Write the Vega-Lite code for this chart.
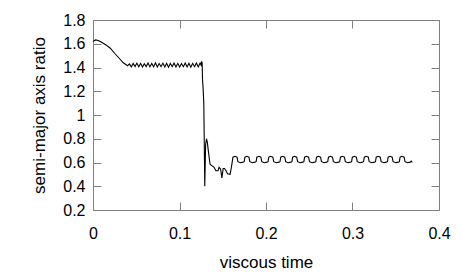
{
  "$schema": "https://vega.github.io/schema/vega-lite/v6.json",
  "width": 346,
  "height": 190,
  "autosize": {"type": "none"},
  "padding": {"left": 93, "top": 20, "right": 24, "bottom": 68},
  "background": "white",
  "config": {
    "view": {"stroke": "#808080", "strokeWidth": 1},
    "font": "Liberation Sans",
    "axis": {
      "domain": false,
      "grid": false,
      "tickColor": "#808080",
      "tickSize": -8,
      "labelColor": "#000000",
      "titleColor": "#000000",
      "labelFont": "Liberation Sans",
      "titleFont": "Liberation Sans",
      "labelFontSize": 16,
      "titleFontSize": 17,
      "titleFontWeight": "normal"
    }
  },
  "data": {
    "values": [
      {"t": 0.0000, "r": 1.620},
      {"t": 0.0030, "r": 1.632},
      {"t": 0.0060, "r": 1.628},
      {"t": 0.0100, "r": 1.612},
      {"t": 0.0150, "r": 1.590},
      {"t": 0.0200, "r": 1.562},
      {"t": 0.0250, "r": 1.520},
      {"t": 0.0300, "r": 1.480},
      {"t": 0.0350, "r": 1.440},
      {"t": 0.0400, "r": 1.415},
      {"t": 0.0421, "r": 1.430},
      {"t": 0.0443, "r": 1.405},
      {"t": 0.0464, "r": 1.434},
      {"t": 0.0486, "r": 1.408},
      {"t": 0.0507, "r": 1.437},
      {"t": 0.0529, "r": 1.406},
      {"t": 0.0550, "r": 1.435},
      {"t": 0.0572, "r": 1.404},
      {"t": 0.0593, "r": 1.432},
      {"t": 0.0615, "r": 1.408},
      {"t": 0.0636, "r": 1.438},
      {"t": 0.0658, "r": 1.405},
      {"t": 0.0679, "r": 1.434},
      {"t": 0.0701, "r": 1.406},
      {"t": 0.0722, "r": 1.439},
      {"t": 0.0744, "r": 1.404},
      {"t": 0.0765, "r": 1.433},
      {"t": 0.0787, "r": 1.407},
      {"t": 0.0808, "r": 1.437},
      {"t": 0.0830, "r": 1.405},
      {"t": 0.0851, "r": 1.436},
      {"t": 0.0873, "r": 1.403},
      {"t": 0.0894, "r": 1.434},
      {"t": 0.0916, "r": 1.407},
      {"t": 0.0937, "r": 1.438},
      {"t": 0.0959, "r": 1.405},
      {"t": 0.0980, "r": 1.435},
      {"t": 0.1002, "r": 1.404},
      {"t": 0.1023, "r": 1.433},
      {"t": 0.1045, "r": 1.407},
      {"t": 0.1066, "r": 1.438},
      {"t": 0.1088, "r": 1.405},
      {"t": 0.1109, "r": 1.436},
      {"t": 0.1131, "r": 1.403},
      {"t": 0.1152, "r": 1.435},
      {"t": 0.1174, "r": 1.407},
      {"t": 0.1195, "r": 1.438},
      {"t": 0.1217, "r": 1.405},
      {"t": 0.1238, "r": 1.437},
      {"t": 0.1250, "r": 1.420},
      {"t": 0.1256, "r": 1.452},
      {"t": 0.1262, "r": 1.440},
      {"t": 0.1266, "r": 1.300},
      {"t": 0.1269, "r": 1.270},
      {"t": 0.1273, "r": 1.220},
      {"t": 0.1277, "r": 1.160},
      {"t": 0.1281, "r": 1.100},
      {"t": 0.1292, "r": 0.400},
      {"t": 0.1302, "r": 0.750},
      {"t": 0.1312, "r": 0.800},
      {"t": 0.1322, "r": 0.770},
      {"t": 0.1333, "r": 0.700},
      {"t": 0.1353, "r": 0.585},
      {"t": 0.1380, "r": 0.570},
      {"t": 0.1400, "r": 0.560},
      {"t": 0.1420, "r": 0.530},
      {"t": 0.1445, "r": 0.530},
      {"t": 0.1457, "r": 0.560},
      {"t": 0.1475, "r": 0.545},
      {"t": 0.1490, "r": 0.470},
      {"t": 0.1505, "r": 0.550},
      {"t": 0.1520, "r": 0.550},
      {"t": 0.1538, "r": 0.530},
      {"t": 0.1555, "r": 0.505},
      {"t": 0.1585, "r": 0.500},
      {"t": 0.1600, "r": 0.560},
      {"t": 0.1610, "r": 0.607},
      {"t": 0.1618, "r": 0.645},
      {"t": 0.1640, "r": 0.652},
      {"t": 0.1665, "r": 0.645},
      {"t": 0.1675, "r": 0.607},
      {"t": 0.1705, "r": 0.598},
      {"t": 0.1735, "r": 0.603},
      {"t": 0.1748, "r": 0.607},
      {"t": 0.1756, "r": 0.645},
      {"t": 0.1778, "r": 0.652},
      {"t": 0.1803, "r": 0.645},
      {"t": 0.1813, "r": 0.607},
      {"t": 0.1843, "r": 0.598},
      {"t": 0.1873, "r": 0.603},
      {"t": 0.1886, "r": 0.607},
      {"t": 0.1894, "r": 0.645},
      {"t": 0.1916, "r": 0.652},
      {"t": 0.1941, "r": 0.645},
      {"t": 0.1951, "r": 0.607},
      {"t": 0.1981, "r": 0.598},
      {"t": 0.2011, "r": 0.603},
      {"t": 0.2024, "r": 0.607},
      {"t": 0.2032, "r": 0.645},
      {"t": 0.2054, "r": 0.652},
      {"t": 0.2079, "r": 0.645},
      {"t": 0.2089, "r": 0.607},
      {"t": 0.2119, "r": 0.598},
      {"t": 0.2149, "r": 0.603},
      {"t": 0.2162, "r": 0.607},
      {"t": 0.2170, "r": 0.645},
      {"t": 0.2192, "r": 0.652},
      {"t": 0.2217, "r": 0.645},
      {"t": 0.2227, "r": 0.607},
      {"t": 0.2257, "r": 0.598},
      {"t": 0.2287, "r": 0.603},
      {"t": 0.2300, "r": 0.607},
      {"t": 0.2308, "r": 0.645},
      {"t": 0.2330, "r": 0.652},
      {"t": 0.2355, "r": 0.645},
      {"t": 0.2365, "r": 0.607},
      {"t": 0.2395, "r": 0.598},
      {"t": 0.2425, "r": 0.603},
      {"t": 0.2438, "r": 0.607},
      {"t": 0.2446, "r": 0.645},
      {"t": 0.2468, "r": 0.652},
      {"t": 0.2493, "r": 0.645},
      {"t": 0.2503, "r": 0.607},
      {"t": 0.2533, "r": 0.598},
      {"t": 0.2563, "r": 0.603},
      {"t": 0.2576, "r": 0.607},
      {"t": 0.2584, "r": 0.645},
      {"t": 0.2606, "r": 0.652},
      {"t": 0.2631, "r": 0.645},
      {"t": 0.2641, "r": 0.607},
      {"t": 0.2671, "r": 0.598},
      {"t": 0.2701, "r": 0.603},
      {"t": 0.2714, "r": 0.607},
      {"t": 0.2722, "r": 0.645},
      {"t": 0.2744, "r": 0.652},
      {"t": 0.2769, "r": 0.645},
      {"t": 0.2779, "r": 0.607},
      {"t": 0.2809, "r": 0.598},
      {"t": 0.2839, "r": 0.603},
      {"t": 0.2852, "r": 0.607},
      {"t": 0.2860, "r": 0.645},
      {"t": 0.2882, "r": 0.652},
      {"t": 0.2907, "r": 0.645},
      {"t": 0.2917, "r": 0.607},
      {"t": 0.2947, "r": 0.598},
      {"t": 0.2977, "r": 0.603},
      {"t": 0.2990, "r": 0.607},
      {"t": 0.2998, "r": 0.645},
      {"t": 0.3020, "r": 0.652},
      {"t": 0.3045, "r": 0.645},
      {"t": 0.3055, "r": 0.607},
      {"t": 0.3085, "r": 0.598},
      {"t": 0.3115, "r": 0.603},
      {"t": 0.3128, "r": 0.607},
      {"t": 0.3136, "r": 0.645},
      {"t": 0.3158, "r": 0.652},
      {"t": 0.3183, "r": 0.645},
      {"t": 0.3193, "r": 0.607},
      {"t": 0.3223, "r": 0.598},
      {"t": 0.3253, "r": 0.603},
      {"t": 0.3266, "r": 0.607},
      {"t": 0.3274, "r": 0.645},
      {"t": 0.3296, "r": 0.652},
      {"t": 0.3321, "r": 0.645},
      {"t": 0.3331, "r": 0.607},
      {"t": 0.3361, "r": 0.598},
      {"t": 0.3391, "r": 0.603},
      {"t": 0.3404, "r": 0.607},
      {"t": 0.3412, "r": 0.645},
      {"t": 0.3434, "r": 0.652},
      {"t": 0.3459, "r": 0.645},
      {"t": 0.3469, "r": 0.607},
      {"t": 0.3499, "r": 0.598},
      {"t": 0.3529, "r": 0.603},
      {"t": 0.3542, "r": 0.607},
      {"t": 0.3550, "r": 0.645},
      {"t": 0.3572, "r": 0.652},
      {"t": 0.3597, "r": 0.645},
      {"t": 0.3607, "r": 0.607},
      {"t": 0.3637, "r": 0.598},
      {"t": 0.3667, "r": 0.603},
      {"t": 0.3680, "r": 0.612},
      {"t": 0.3690, "r": 0.600}
    ]
  },
  "resolve": {"axis": {"x": "independent", "y": "independent"}},
  "layer": [
    {
      "mark": {"type": "line", "color": "#000000", "strokeWidth": 1.1, "interpolate": "linear"},
      "encoding": {
        "x": {
          "field": "t",
          "type": "quantitative",
          "scale": {"domain": [0, 0.4], "nice": false, "zero": false},
          "axis": {
            "orient": "bottom",
            "title": "viscous time",
            "values": [0, 0.1, 0.2, 0.3, 0.4],
            "format": "~g",
            "labelPadding": 23,
            "labelBaseline": "top",
            "labelFlush": false,
            "titleBaseline": "alphabetic",
            "titleY": 57
          }
        },
        "y": {
          "field": "r",
          "type": "quantitative",
          "scale": {"domain": [0.2, 1.8], "nice": false, "zero": false},
          "axis": {
            "orient": "left",
            "title": "semi-major axis ratio",
            "values": [0.2, 0.4, 0.6, 0.8, 1.0, 1.2, 1.4, 1.6, 1.8],
            "format": "~g",
            "labelPadding": 16,
            "labelFlush": false,
            "titleBaseline": "alphabetic",
            "titleX": -49
          }
        }
      }
    },
    {
      "mark": {"type": "line", "strokeOpacity": 0},
      "encoding": {
        "x": {
          "field": "t",
          "type": "quantitative",
          "axis": {"orient": "top", "title": null, "labels": false, "values": [0, 0.1, 0.2, 0.3, 0.4]}
        },
        "y": {
          "field": "r",
          "type": "quantitative",
          "axis": {"orient": "right", "title": null, "labels": false, "values": [0.2, 0.4, 0.6, 0.8, 1.0, 1.2, 1.4, 1.6, 1.8]}
        }
      }
    }
  ]
}
